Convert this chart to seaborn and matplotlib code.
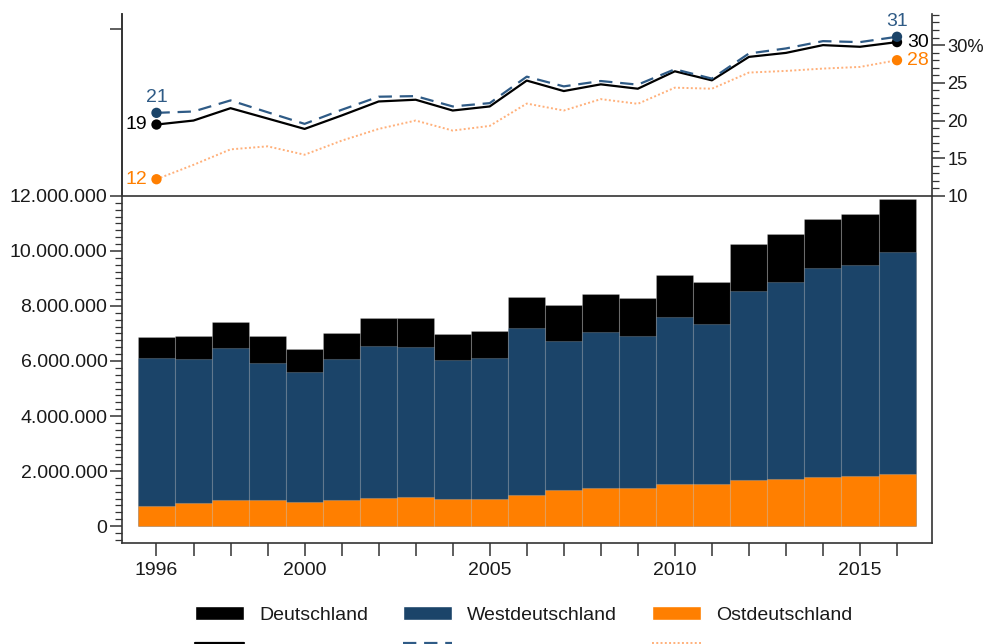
import matplotlib
matplotlib.use("Agg")
import matplotlib.pyplot as plt
import seaborn as sns
from matplotlib.ticker import FuncFormatter, MultipleLocator, FixedLocator
from matplotlib.patches import Patch
from matplotlib.lines import Line2D

years = list(range(1996, 2017))
tick_years = [1996, 2000, 2005, 2010, 2015]

# Balken (Anzahl)
ost = [0.73e6, 0.83e6, 0.93e6, 0.96e6, 0.87e6, 0.96e6, 1.01e6, 1.04e6, 0.97e6, 0.98e6, 1.14e6,
       1.30e6, 1.39e6, 1.37e6, 1.52e6, 1.51e6, 1.68e6, 1.72e6, 1.77e6, 1.83e6, 1.89e6]
west = [5.39e6, 5.23e6, 5.55e6, 4.98e6, 4.72e6, 5.10e6, 5.54e6, 5.46e6, 5.08e6, 5.13e6, 6.05e6,
        5.43e6, 5.66e6, 5.54e6, 6.07e6, 5.84e6, 6.88e6, 7.14e6, 7.62e6, 7.67e6, 8.08e6]
deutschland = [6.86e6, 6.90e6, 7.43e6, 6.90e6, 6.45e6, 7.03e6, 7.56e6, 7.56e6, 6.99e6, 7.09e6, 8.33e6,
               8.02e6, 8.45e6, 8.28e6, 9.12e6, 8.87e6, 10.25e6, 10.61e6, 11.18e6, 11.36e6, 11.88e6]

# Linien (Anteil in %)
anteil_de = [19.47, 20.0, 21.64, 20.27, 18.89, 20.67, 22.53, 22.76, 21.33, 21.87, 25.3,
             23.91, 24.8, 24.22, 26.53, 25.33, 28.44, 28.97, 30.0, 29.78, 30.4]
anteil_west = [21.02, 21.2, 22.67, 21.1, 19.56, 21.42, 23.16, 23.24, 21.87, 22.31, 25.82,
               24.53, 25.24, 24.76, 26.8, 25.56, 28.89, 29.56, 30.53, 30.4, 31.11]
anteil_ost = [12.22, 14.13, 16.18, 16.58, 15.47, 17.33, 18.89, 20.0, 18.67, 19.29, 22.25,
              21.33, 22.84, 22.22, 24.36, 24.22, 26.36, 26.58, 26.89, 27.11, 28.0]

c_black = "#000000"
c_blue = "#1b4469"
c_orange = "#ff7f00"
c_blue_line = "#2f5b86"
c_orange_line = "#ffb07a"
c_axis = "#333333"
c_text = "#1a1a1a"

sns.set_theme(style="white")
plt.rcParams["font.family"] = ["Liberation Sans", "DejaVu Sans"]
plt.rcParams["text.color"] = c_text
plt.rcParams["xtick.color"] = c_text
plt.rcParams["ytick.color"] = c_text
fs = 14

fig = plt.figure(figsize=(9.85, 6.44), dpi=100)
ax = fig.add_axes([0.1239, 0.1568, 0.8223, 0.5389])
ax_top = fig.add_axes([0.1239, 0.6957, 0.8223, 0.2826])

west_top = [o + w for o, w in zip(ost, west)]
bar_kw = dict(native_scale=True, width=1, errorbar=None, saturation=1,
              edgecolor=(1, 1, 1, 0.18), linewidth=0.8, ax=ax)
sns.barplot(x=years, y=deutschland, color=c_black, **bar_kw)
sns.barplot(x=years, y=west_top, color=c_blue, **bar_kw)
sns.barplot(x=years, y=ost, color=c_orange, **bar_kw)

ax.set_xlim(1995.07, 2016.945)
ax.set_ylim(-618000, 12e6)
ax.xaxis.set_major_locator(FixedLocator(years))
ax.set_xticklabels([str(y) if y in tick_years else "" for y in years])
ax.yaxis.set_major_locator(MultipleLocator(2e6))
ax.yaxis.set_minor_locator(MultipleLocator(250000))
ax.yaxis.set_major_formatter(FuncFormatter(lambda v, p: f"{int(v):,}".replace(",", ".")))
ax.tick_params(axis="x", which="major", length=9, width=1.1, color=c_axis, pad=5,
               labelsize=fs, bottom=True)
ax.tick_params(axis="y", which="major", length=9, width=1.1, color=c_axis, pad=1.5,
               labelsize=fs, left=True)
ax.tick_params(axis="y", which="minor", length=5, width=0.9, color=c_axis, left=True)
ax.set_xlabel("")
ax.set_ylabel("")
for s in ax.spines.values():
    s.set_visible(True)
    s.set_color(c_axis)
    s.set_linewidth(1.2)

# Anteile
sns.lineplot(x=years, y=anteil_de, color=c_black, lw=1.6, ax=ax_top)
sns.lineplot(x=years, y=anteil_west, color=c_blue_line, lw=1.6, ax=ax_top, linestyle=(0, (6, 3.5)))
sns.lineplot(x=years, y=anteil_ost, color=c_orange_line, lw=1.4, ax=ax_top, linestyle=(0, (1, 1.2)))
for serie, col in [(anteil_de, c_black), (anteil_west, c_blue), (anteil_ost, c_orange)]:
    sns.scatterplot(x=[years[0], years[-1]], y=[serie[0], serie[-1]], color=col, s=55,
                    edgecolor="none", ax=ax_top, zorder=5)

ax_top.annotate(f"{anteil_west[0]:.0f}", (years[0], anteil_west[0]), xytext=(0, 5),
                textcoords="offset points", ha="center", va="bottom", color=c_blue_line, fontsize=fs)
ax_top.annotate(f"{anteil_de[0]:.0f}", (years[0], anteil_de[0]), xytext=(-7, 0),
                textcoords="offset points", ha="right", va="center", color=c_black, fontsize=fs)
ax_top.annotate(f"{anteil_ost[0]:.0f}", (years[0], anteil_ost[0]), xytext=(-7, 0),
                textcoords="offset points", ha="right", va="center", color=c_orange, fontsize=fs)
ax_top.annotate(f"{anteil_west[-1]:.0f}", (years[-1], anteil_west[-1]), xytext=(0, 5),
                textcoords="offset points", ha="center", va="bottom", color=c_blue_line, fontsize=fs)
ax_top.annotate(f"{anteil_de[-1]:.0f}", (years[-1], anteil_de[-1]), xytext=(7, 0),
                textcoords="offset points", ha="left", va="center", color=c_black, fontsize=fs)
ax_top.annotate(f"{anteil_ost[-1]:.0f}", (years[-1], anteil_ost[-1]), xytext=(7, 0),
                textcoords="offset points", ha="left", va="center", color=c_orange, fontsize=fs)

ax_top.set_xlim(1995.07, 2016.945)
ax_top.set_ylim(10, 34.13)
ax_top.set_xticks([])
ax_top.yaxis.tick_right()
ax_top.yaxis.set_major_locator(MultipleLocator(5))
ax_top.yaxis.set_minor_locator(MultipleLocator(1))
ax_top.yaxis.set_major_formatter(FuncFormatter(lambda v, p: f"{v:.0f}%" if round(v) == 30 else f"{v:.0f}"))
ax_top.tick_params(axis="y", which="major", length=9, width=1.1, color=c_axis, pad=2,
                   labelsize=13.2, right=True, left=False)
ax_top.tick_params(axis="y", which="minor", length=5, width=0.9, color=c_axis, right=True, left=False)
ax_top.set_xlabel("")
ax_top.set_ylabel("")
ax_top.patch.set_alpha(0)
for name, s in ax_top.spines.items():
    s.set_color(c_axis)
    s.set_linewidth(1.2)
    s.set_visible(name in ("left", "right"))

sec = ax_top.secondary_yaxis("left")
sec.set_yticks([32.2])
sec.set_yticklabels([""])
sec.tick_params(length=9, width=1.1, color=c_axis)
sec.spines["left"].set_color(c_axis)
sec.spines["left"].set_linewidth(1.2)

handles = [
    Patch(facecolor=c_black), Line2D([], [], color=c_black, lw=1.6),
    Patch(facecolor=c_blue), Line2D([], [], color=c_blue_line, lw=1.6, linestyle=(0, (6, 3.5))),
    Patch(facecolor=c_orange), Line2D([], [], color=c_orange_line, lw=1.4, linestyle=(0, (1, 1.2))),
]
labels = ["Deutschland", "", "Westdeutschland", "", "Ostdeutschland", ""]
fig.legend(handles, labels, ncol=3, loc="upper left", bbox_to_anchor=(0.1802, 0.0855),
           frameon=False, fontsize=fs, handlelength=2.5, handletextpad=0.8,
           columnspacing=1.8, labelspacing=0.6)

fig.savefig("out.png", dpi=100)
